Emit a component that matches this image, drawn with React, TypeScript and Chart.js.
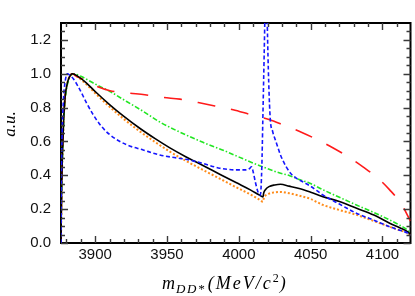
import { useEffect, useRef } from 'react';
import { Chart, registerables } from 'chart.js';

Chart.register(...registerables);

// Axis range and ticks
const X_MIN = 3876.2;
const X_MAX = 4119.5;
const Y_MIN = 0;
const Y_MAX = 1.3;
const xMajorTicks = [3900, 3950, 4000, 4050, 4100];
const xMinorTicks = [3880, 3890, 3910, 3920, 3930, 3940, 3960, 3970, 3980, 3990, 4010, 4020, 4030, 4040, 4060, 4070, 4080, 4090, 4110];
const yMajorTicks = [0, 0.2, 0.4, 0.6, 0.8, 1.0, 1.2];
const yMinorTicks = [0.05, 0.1, 0.15, 0.25, 0.3, 0.35, 0.45, 0.5, 0.55, 0.65, 0.7, 0.75, 0.85, 0.9, 0.95, 1.05, 1.1, 1.15, 1.25];

// Black solid
const blackX = [3876.2, 3876.6, 3877.2, 3878, 3879, 3880.5, 3882, 3884, 3888, 3894, 3900, 3910, 3920, 3931, 3942, 3952, 3963, 3975, 3987, 3998, 4008, 4014, 4016.8, 4017.3, 4018.5, 4021, 4025, 4029, 4035, 4042, 4050, 4058.5, 4070, 4082, 4094, 4105, 4112, 4117.7, 4119.5];
const blackY = [0, 0.3, 0.52, 0.72, 0.86, 0.94, 0.98, 1.0, 0.985, 0.945, 0.895, 0.818, 0.748, 0.678, 0.615, 0.562, 0.51, 0.458, 0.405, 0.357, 0.314, 0.285, 0.272, 0.295, 0.315, 0.333, 0.343, 0.347, 0.336, 0.322, 0.3, 0.274, 0.245, 0.205, 0.165, 0.117, 0.09, 0.065, 0.05];

// Orange dotted
const orangeX = [3876.2, 3876.6, 3877.2, 3878, 3879, 3880.5, 3882, 3884, 3888, 3894, 3900, 3910, 3920, 3931, 3942, 3952, 3963, 3975, 3987, 3998, 4008, 4014, 4016.8, 4017.3, 4018.5, 4021, 4024, 4029, 4035, 4042, 4050, 4058.5, 4070, 4082, 4094, 4105, 4112, 4117.7, 4119.5];
const orangeY = [0, 0.3, 0.52, 0.72, 0.86, 0.94, 0.98, 1.0, 0.98, 0.937, 0.885, 0.805, 0.732, 0.66, 0.595, 0.54, 0.486, 0.432, 0.379, 0.33, 0.287, 0.258, 0.244, 0.262, 0.28, 0.292, 0.298, 0.302, 0.294, 0.28, 0.26, 0.225, 0.195, 0.166, 0.13, 0.096, 0.075, 0.058, 0.045];

// Green dash-dot
const greenX = [3876.2, 3876.6, 3877.2, 3878, 3879, 3880.5, 3882, 3885.2, 3890, 3898.7, 3910.3, 3921.9, 3933, 3945, 3959, 3975, 3990, 4005, 4015, 4028, 4035.4, 4042, 4049, 4058.5, 4070, 4081.8, 4094, 4105, 4112, 4117.7, 4119.5];
const greenY = [0, 0.28, 0.5, 0.7, 0.84, 0.93, 0.975, 1.0, 0.985, 0.945, 0.895, 0.836, 0.78, 0.715, 0.655, 0.595, 0.545, 0.49, 0.455, 0.415, 0.398, 0.375, 0.355, 0.315, 0.27, 0.225, 0.18, 0.136, 0.105, 0.075, 0.06];

// Blue dashed
const blueX = [3876.2, 3876.5, 3877, 3878, 3879, 3880.6, 3882.5, 3884.8, 3889.4, 3894, 3898.7, 3904.5, 3910.3, 3922, 3933.4, 3945, 3955, 3966, 3975, 3986.7, 3998.3, 4005, 4007.5, 4008.8, 4010, 4011.5, 4013.4, 4015, 4016, 4016.7, 4017.6, 4018.4, 4019.1, 4019.8, 4020.8, 4021.9, 4023.5, 4026.2, 4029, 4033, 4036, 4040, 4045, 4050, 4058.5, 4070, 4081.8, 4094, 4105, 4112, 4117.7, 4119.5];
const blueY = [0, 0.4, 0.65, 0.86, 0.95, 1.0, 0.99, 0.97, 0.905, 0.827, 0.757, 0.688, 0.639, 0.58, 0.55, 0.52, 0.505, 0.49, 0.47, 0.442, 0.432, 0.432, 0.44, 0.45, 0.42, 0.36, 0.3, 0.284, 0.45, 0.73, 1.1, 1.45, 1.7, 1.3, 0.95, 0.73, 0.66, 0.59, 0.52, 0.45, 0.412, 0.383, 0.36, 0.335, 0.284, 0.23, 0.176, 0.135, 0.096, 0.075, 0.058, 0.045];

// Red long-dashed
const redX = [3876.2, 3876.6, 3877.2, 3878, 3879, 3880.5, 3882, 3884.5, 3886, 3892, 3898.7, 3910.3, 3923, 3934.6, 3947.3, 3959, 3971.7, 3983.3, 3996, 4007.6, 4021, 4031.9, 4043.5, 4055, 4066, 4076.6, 4086.4, 4096.4, 4105, 4113, 4119.5];
const redY = [0, 0.3, 0.52, 0.72, 0.86, 0.94, 0.98, 1.0, 0.99, 0.965, 0.935, 0.9, 0.886, 0.876, 0.86, 0.85, 0.83, 0.81, 0.787, 0.76, 0.73, 0.694, 0.655, 0.609, 0.56, 0.507, 0.45, 0.386, 0.314, 0.231, 0.13];

const pts = (xs: number[], ys: number[]) => xs.map((x, i) => ({ x, y: ys[i] }));

const SERIF = '"Liberation Serif", "Times New Roman", serif';

const framePlugin = {
  id: 'frameTicks',
  beforeDatasetsDraw(chart: any) {
    const { ctx, chartArea: a } = chart;
    ctx.save();
    ctx.strokeStyle = '#000';
    ctx.lineWidth = 2;
    ctx.strokeRect(a.left, a.top, a.right - a.left, a.bottom - a.top);
    ctx.restore();
  },
  afterDraw(chart: any) {
    const { ctx, chartArea: a, scales } = chart;
    const xs = scales.x;
    const ys = scales.y;
    ctx.save();
    ctx.strokeStyle = '#3a3a3a';
    ctx.lineWidth = 1.4;
    const drawX = (vals: number[], len: number) => {
      vals.forEach((v) => {
        const px = Math.round(xs.getPixelForValue(v)) + 0.5;
        ctx.beginPath();
        ctx.moveTo(px, a.bottom);
        ctx.lineTo(px, a.bottom - len);
        ctx.moveTo(px, a.top);
        ctx.lineTo(px, a.top + len);
        ctx.stroke();
      });
    };
    const drawY = (vals: number[], len: number) => {
      vals.forEach((v) => {
        const py = Math.round(ys.getPixelForValue(v)) + 0.5;
        ctx.beginPath();
        ctx.moveTo(a.left, py);
        ctx.lineTo(a.left + len, py);
        ctx.moveTo(a.right, py);
        ctx.lineTo(a.right - len, py);
        ctx.stroke();
      });
    };
    drawX(xMajorTicks, 7);
    drawX(xMinorTicks, 4);
    drawY(yMajorTicks, 7);
    drawY(yMinorTicks, 4);
    ctx.restore();

    ctx.save();
    ctx.fillStyle = '#000';
    // y title
    ctx.save();
    ctx.translate(15, 124);
    ctx.rotate(-Math.PI / 2);
    ctx.font = `italic 17px ${SERIF}`;
    ctx.textAlign = 'center';
    ctx.textBaseline = 'alphabetic';
    ctx.fillText('a.u.', 0, 0);
    ctx.restore();
    // x title
    ctx.textBaseline = 'alphabetic';
    ctx.textAlign = 'left';
    ctx.font = `italic 18px ${SERIF}`;
    ctx.fillText('m', 162, 289);
    const mw = ctx.measureText('m').width;
    ctx.font = `italic 13px ${SERIF}`;
    (ctx as any).letterSpacing = '1.5px';
    ctx.fillText('DD*', 162 + mw + 1, 293);
    const sw = ctx.measureText('DD*').width;
    ctx.font = `italic 18px ${SERIF}`;
    (ctx as any).letterSpacing = '2px';
    const px0 = 162 + mw + 1 + sw + 2;
    ctx.fillText('(MeV/c', px0, 289);
    const w = ctx.measureText('(MeV/c').width;
    (ctx as any).letterSpacing = '0px';
    ctx.font = `12px ${SERIF}`;
    ctx.fillText('2', px0 + w, 282);
    ctx.font = `italic 18px ${SERIF}`;
    ctx.fillText(')', px0 + w + 7, 289);
    ctx.restore();
  },
};

export default function App() {
  const ref = useRef<HTMLCanvasElement | null>(null);
  useEffect(() => {
    document.body.style.margin = '0';
    const canvas = ref.current;
    if (!canvas) return;
    const tickFont = { family: '"Liberation Sans", Arial, sans-serif', size: 15 };
    const chart = new Chart(canvas, {
      type: 'line',
      data: {
        datasets: [
          { label: 'blue', data: pts(blueX, blueY), borderColor: '#1515ff', borderWidth: 1.6, borderDash: [4, 2.5], pointRadius: 0, cubicInterpolationMode: 'monotone', fill: false },
          { label: 'black', data: pts(blackX, blackY), borderColor: '#000000', borderWidth: 1.6, pointRadius: 0, cubicInterpolationMode: 'monotone', fill: false },
          { label: 'red', data: pts(redX, redY), borderColor: '#ff1a1a', borderWidth: 1.6, borderDash: [18, 16], borderDashOffset: 5, pointRadius: 0, cubicInterpolationMode: 'monotone', fill: false },
          { label: 'green', data: pts(greenX, greenY), borderColor: '#22e622', borderWidth: 1.6, borderDash: [5, 2, 1.5, 2], pointRadius: 0, cubicInterpolationMode: 'monotone', fill: false },
          { label: 'orange', data: pts(orangeX, orangeY), borderColor: '#ff8c1a', borderWidth: 2, borderDash: [2, 2], pointRadius: 0, cubicInterpolationMode: 'monotone', fill: false },
        ],
      },
      options: {
        responsive: false,
        animation: false,
        parsing: false as any,
        layout: { padding: { left: 0, right: 4.5, top: 23, bottom: 0 } },
        plugins: { legend: { display: false }, tooltip: { enabled: false } },
        scales: {
          x: {
            type: 'linear',
            min: X_MIN,
            max: X_MAX,
            grid: { display: false, drawTicks: false },
            border: { display: false },
            ticks: { font: tickFont, color: '#111', padding: 3, maxRotation: 0, autoSkip: false, callback: (v: any) => String(v) },
            afterBuildTicks: (s: any) => { s.ticks = xMajorTicks.map((v) => ({ value: v })); },
            afterFit: (s: any) => { s.height = 53; },
          },
          y: {
            type: 'linear',
            min: Y_MIN,
            max: Y_MAX,
            grid: { display: false, drawTicks: false },
            border: { display: false },
            ticks: { font: tickFont, color: '#111', padding: 10, callback: (v: any) => Number(v).toFixed(1) },
            afterBuildTicks: (s: any) => { s.ticks = yMajorTicks.map((v) => ({ value: v })); },
            afterFit: (s: any) => { s.width = 61; },
          },
        },
      },
      plugins: [framePlugin],
    });
    return () => chart.destroy();
  }, []);
  return (
    <div style={{ position: 'relative', width: 415, height: 296 }}>
      <canvas ref={ref} width={415} height={296} style={{ width: 415, height: 296, display: 'block' }} />
    </div>
  );
}
